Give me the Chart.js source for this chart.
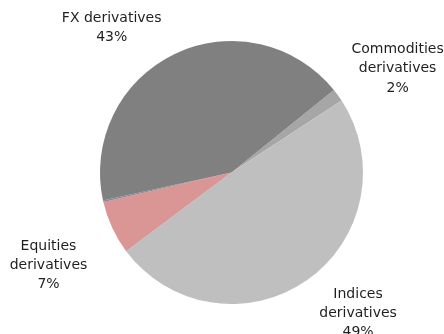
<!DOCTYPE html>
<html>
<head>
<meta charset="utf-8">
<script src="https://cdn.jsdelivr.net/npm/chart.js@4/dist/chart.umd.min.js"></script>
<style>
  html, body { margin: 0; padding: 0; background: #fff; }
  #wrap { width: 444px; height: 334px; }
</style>
</head>
<body>
<div id="wrap"><canvas id="derivados"></canvas></div>
<script>
// composition by underlying, % of notional
var categorias = ["Commodities derivatives", "Indices derivatives", "Equities derivatives", "Other derivatives", "FX derivatives"];
var valores = [1.6, 49.0, 6.6, 0.2, 42.6];
var colores = ['#a6a6a6', '#bfbfbf', '#d99694', '#7b8a99', '#808080'];

// label placement: distance from centre (x radius), angle shift in degrees, line-wrapped names
var etiquetas = [
    { lineas: ["Commodities", "derivatives"], dist: 1.49, giro: 4 },
    { lineas: ["Indices", "derivatives"], dist: 1.44, giro: -7 },
    { lineas: ["Equities", "derivatives"], dist: 1.56, giro: -2 },
    null,
    { lineas: ["FX derivatives"], dist: 1.43, giro: -14 }
];

var total = valores.reduce(function (a, b) { return a + b; }, 0);

var etiquetasPlugin = {
    id: 'etiquetas',
    afterDatasetsDraw: function (chart) {
        var ctx = chart.ctx;
        var meta = chart.getDatasetMeta(0);
        ctx.save();
        ctx.font = '14px "DejaVu Sans"';
        ctx.fillStyle = '#1f1f1f';
        ctx.textAlign = 'center';
        ctx.textBaseline = 'middle';
        meta.data.forEach(function (arco, i) {
            var e = etiquetas[i];
            if (!e) return;
            var p = arco.getProps(['x', 'y', 'startAngle', 'endAngle', 'outerRadius'], true);
            var ang = (p.startAngle + p.endAngle) / 2 + e.giro * Math.PI / 180;
            var cx = p.x + Math.cos(ang) * p.outerRadius * e.dist;
            var cy = p.y + Math.sin(ang) * p.outerRadius * e.dist;
            var lineas = e.lineas.concat([Math.round(valores[i] / total * 100) + '%']);
            var alto = 19.3;
            var y0 = cy - (lineas.length - 1) * alto / 2;
            lineas.forEach(function (t, k) {
                ctx.fillText(t, cx, y0 + k * alto);
            });
        });
        ctx.restore();
    }
};

var grafico = new Chart(document.getElementById("derivados"), {
    type: 'pie',
    data: {
        labels: categorias,
        datasets: [{
            data: valores,
            backgroundColor: colores,
            borderWidth: 0
        }]
    },
    options: {
        responsive: true,
        maintainAspectRatio: false,
        animation: false,
        rotation: 51.1,
        layout: { padding: { top: 41, bottom: 30, left: 100, right: 81 } },
        plugins: {
            legend: { display: false },
            tooltip: { enabled: false }
        }
    },
    plugins: [etiquetasPlugin]
});
</script>
</body>
</html>
